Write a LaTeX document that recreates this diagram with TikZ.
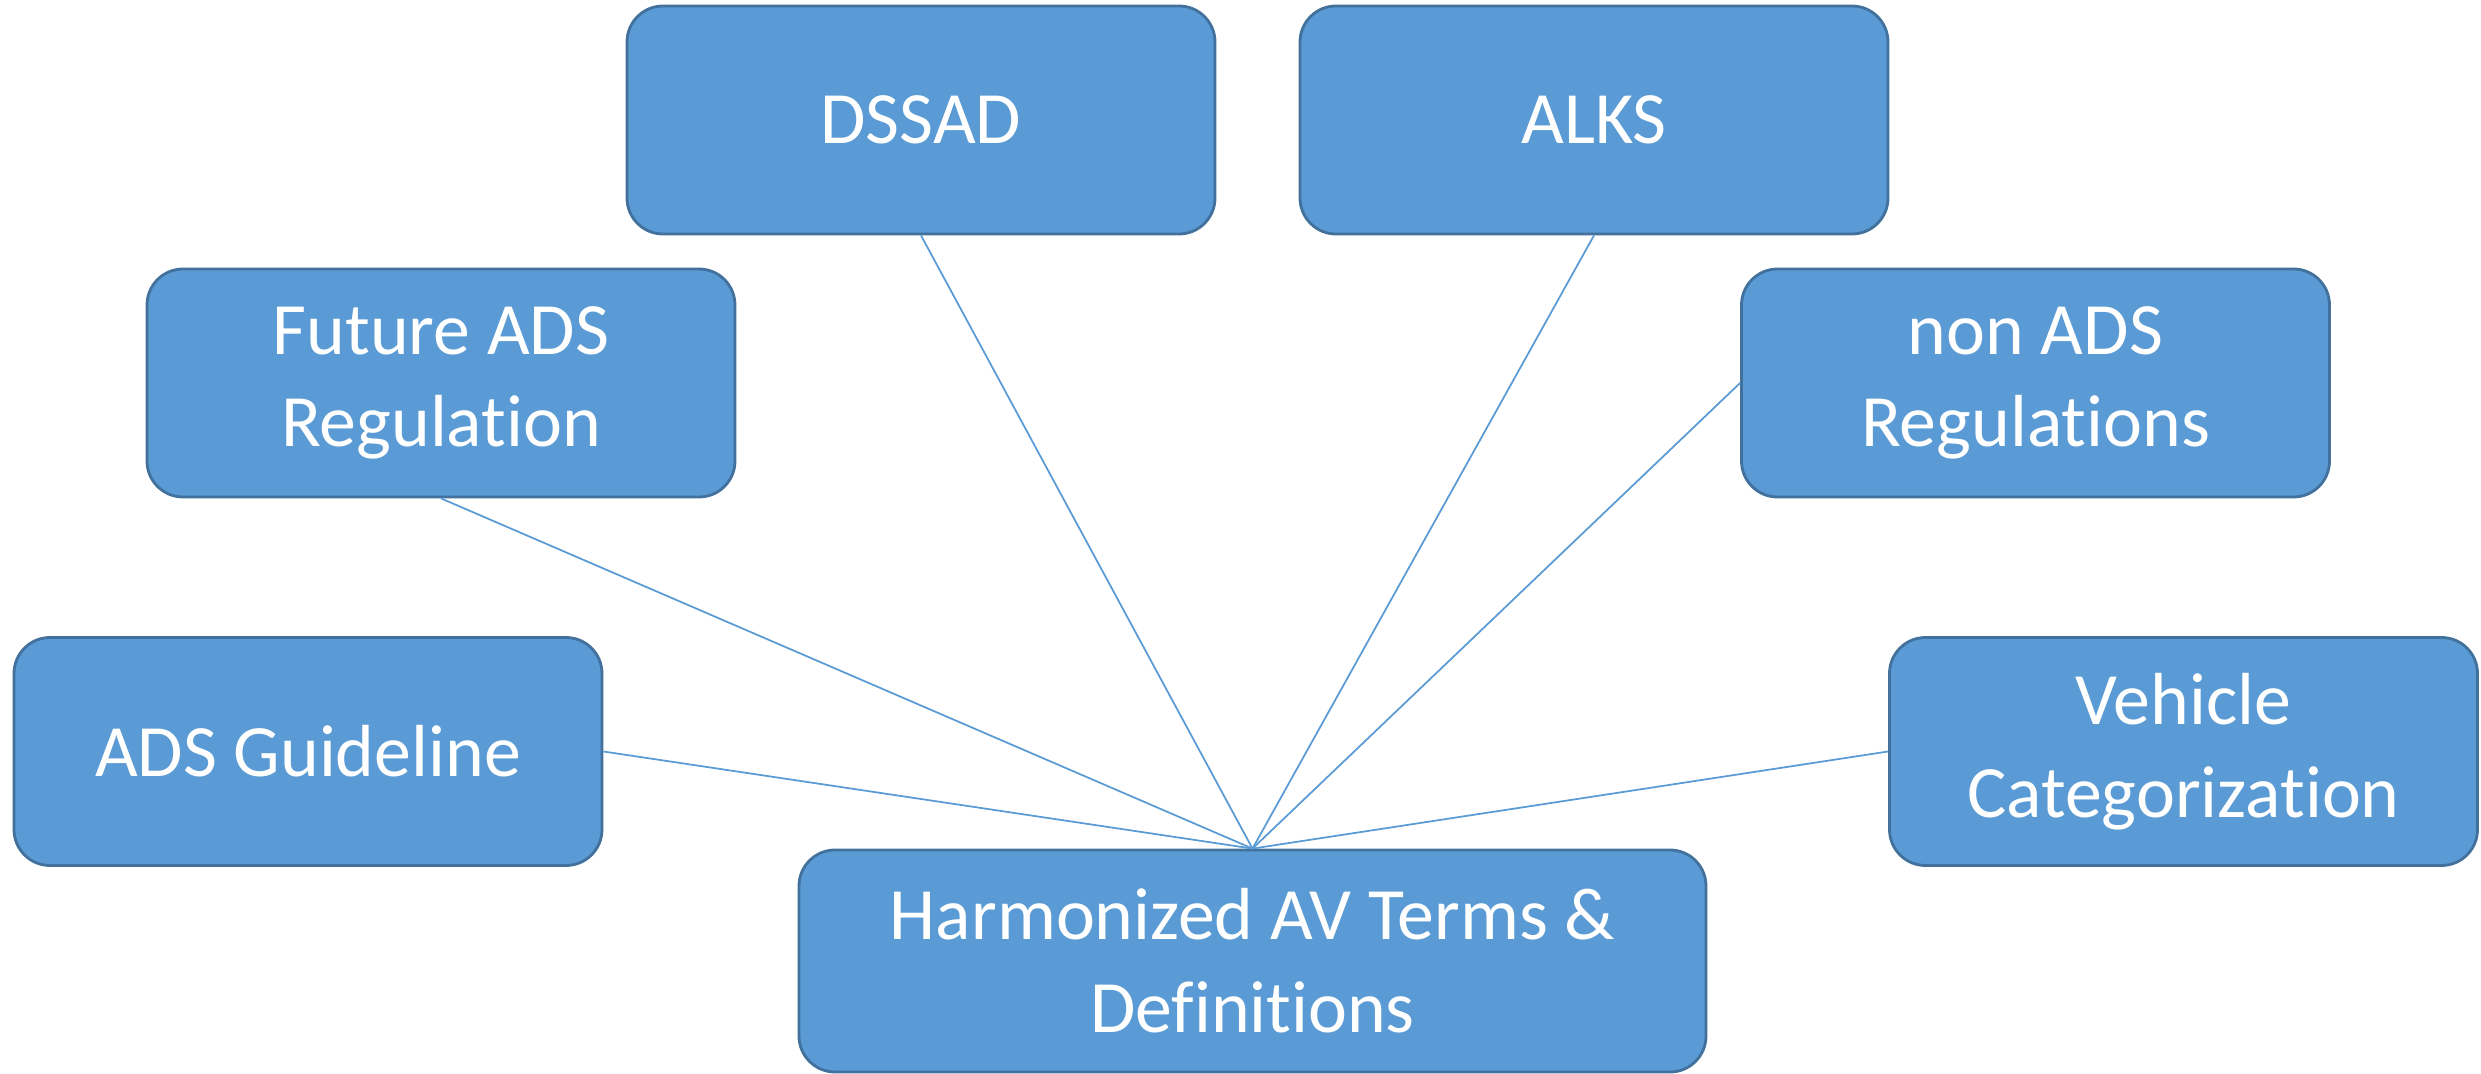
\documentclass[tikz,border=0pt]{standalone}
\usepackage{fontspec}
\setmainfont{Carlito}[Ligatures=NoCommon]
\usepackage{tikz}
\usetikzlibrary{shapes,positioning}
\usepackage{xcolor}
\definecolor{boxblue}{RGB}{91,155,213}
\definecolor{boxborder}{RGB}{65,113,156}
\definecolor{linkblue}{RGB}{91,155,213}
\tikzstyle{topicbox} = [rectangle, rounded corners=0.36cm, draw=boxborder, fill=boxblue, line width=0.8pt, minimum width=5.88cm, minimum height=2.28cm, text=white, align=center, font=\fontsize{21}{26.4}\selectfont]
\tikzstyle{hubbox} = [topicbox, minimum width=9.07cm, minimum height=2.22cm]
\tikzstyle{link} = [line width=0.5pt, color=linkblue]

\begin{document}
\begin{tikzpicture}
\useasboundingbox (0,0) rectangle (24.81,-10.74);
% Topic boxes
\node[topicbox] (dssad) at (9.21,-1.20) {DSSAD};
\node[topicbox] (alks) at (15.94,-1.20) {ALKS};
\node[topicbox] (future) at (4.41,-3.83) {Future ADS\\Regulation};
\node[topicbox] (nonads) at (20.355,-3.83) {non ADS\\Regulations};
\node[topicbox] (guide) at (3.08,-7.515) {ADS Guideline};
\node[topicbox] (vehicle) at (21.835,-7.515) {Vehicle\\Categorization};

% Central box
\node[hubbox] (hub) at (12.525,-9.61) {Harmonized AV Terms \&\\Definitions};

% Connections to the hub
\draw[link] (hub.north) -- (dssad.south);
\draw[link] (hub.north) -- (alks.south);
\draw[link] (hub.north) -- (future.south);
\draw[link] (hub.north) -- (nonads.west);
\draw[link] (hub.north) -- (guide.east);
\draw[link] (hub.north) -- (vehicle.west);
\end{tikzpicture}
\end{document}
